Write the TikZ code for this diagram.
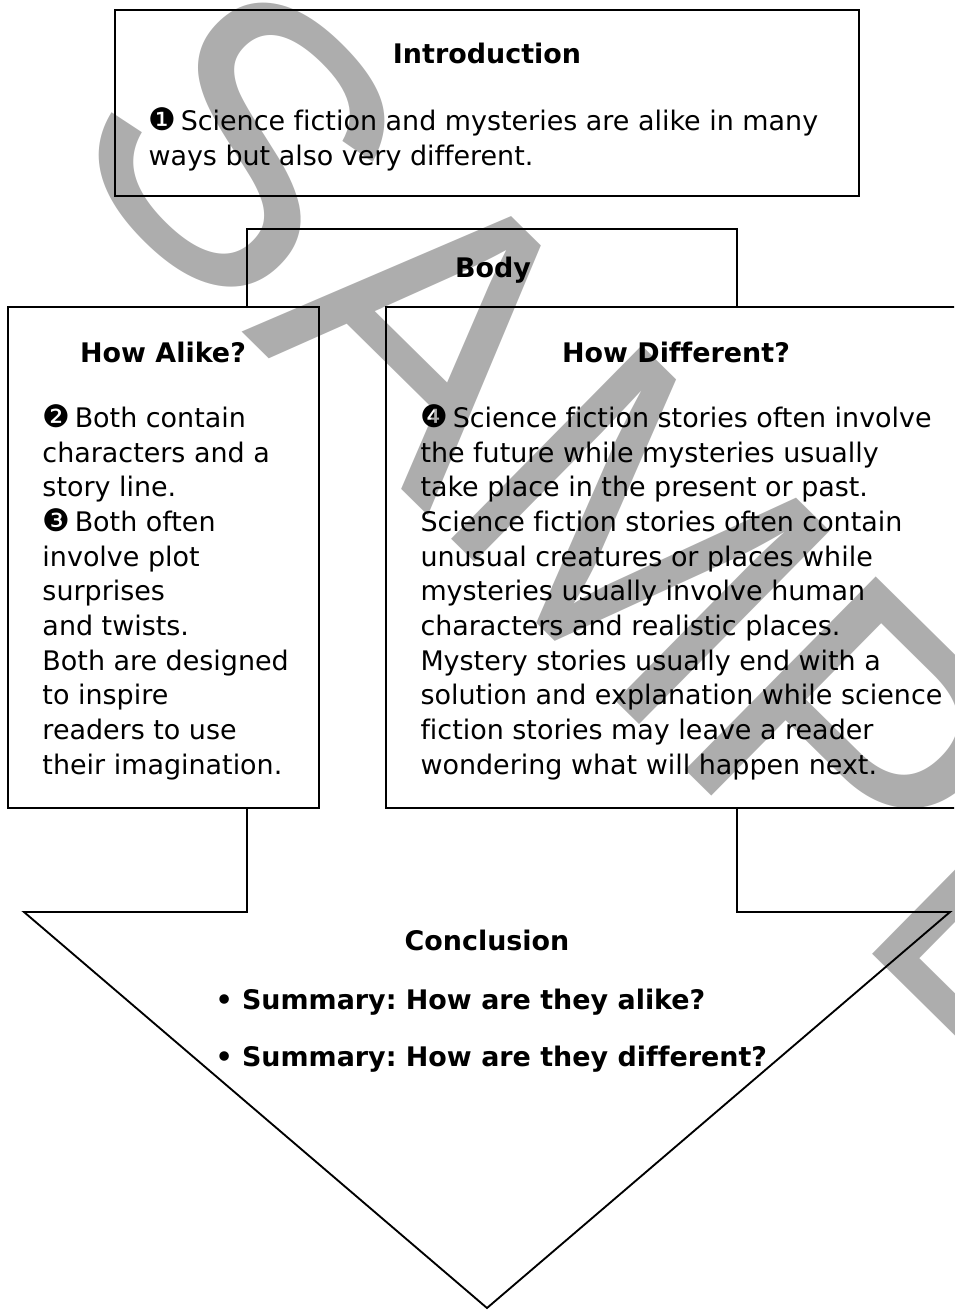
\documentclass[tikz,border=0pt]{standalone}
\usepackage{graphicx}
\usepackage{fontspec}
\setmainfont{DejaVu Sans}[Ligatures=NoCommon]
\newfontfamily\wmfont{Liberation Sans}
\definecolor{wmgray}{RGB}{173,173,173}
\frenchspacing
\newcommand{\cnum}[1]{\scalebox{1.15}{#1}\,}

\tikzset{every picture/.style={line width=0.75pt}}
\tikzset{
  boxline/.style={line width=1.6pt},
  arrowline/.style={line width=1.4pt},
  headtext/.style={inner sep=0.75pt, font=\fontsize{20.2}{26}\selectfont\bfseries},
  bodytext/.style={anchor=north west, inner sep=0pt, align=left, font=\fontsize{20.2}{26}\selectfont},
  sumtext/.style={anchor=base west, inner sep=0pt, font=\fontsize{20.2}{26}\selectfont\bfseries}
}

\begin{document}
\begin{tikzpicture}[x=0.75pt,y=0.75pt,yscale=-1,xscale=1]
%set diagram left start at 0, and has height of 1311
\clip (0,0) rectangle (954,1311);
% Watermark
\draw (719,612) node (stamp) [inner sep=0pt, rotate=-44.6, text=wmgray] [font=\fontsize{296}{296}\selectfont\wmfont] {SAMPLE};
%Shape: Rectangle
\draw [boxline] (115,10) rectangle (859,196);
%Straight Lines
\draw [arrowline] (247,307) -- (247,229) -- (737,229) -- (737,307);
%Straight Lines
\draw [arrowline] (247,808) -- (247,912) -- (24,912) -- (487,1308) -- (950,912) -- (737,912) -- (737,808);
%Shape: Rectangle
\draw [boxline] (8,307) rectangle (319,808);
%Shape: Rectangle
\draw [boxline] (386,307) rectangle (970,808);
% Text Node
\draw (487,53) node (intro) [headtext] {Introduction};
% Text Node
\draw (148,107) node (introtxt) [bodytext] {\cnum{❶}Science fiction and mysteries are alike in many\\ways but also very different.};
% Text Node
\draw (493,270) node (body) [headtext] {Body};
% Text Node
\draw (163,352) node (alike) [headtext] {How Alike?};
% Text Node
\draw (42,404) node (alikedtxt) [bodytext] {\cnum{❷}Both contain\\characters and a\\story line.\\\cnum{❸}Both often\\involve plot\\surprises\\and twists.\\Both are designed\\to inspire\\readers to use\\their imagination.};
% Text Node
\draw (676,352) node (differ) [headtext] {How Different?};
% Text Node
\draw (420,404) node (differtxt) [bodytext] {\cnum{❹}Science fiction stories often involve\\the future while mysteries usually\\take place in the present or past.\\Science fiction stories often contain\\unusual creatures or places while\\mysteries usually involve human\\characters and realistic places.\\Mystery stories usually end with a\\solution and explanation while science\\fiction stories may leave a reader\\wondering what will happen next.};
% Text Node
\draw (487,940) node (concl) [headtext] {Conclusion};
% Text Node
\draw (215,1009) node (sumalike) [sumtext] {• Summary: How are they alike?};
% Text Node
\draw (215,1066) node (sumdiffer) [sumtext] {• Summary: How are they different?};
\end{tikzpicture}
\end{document}
